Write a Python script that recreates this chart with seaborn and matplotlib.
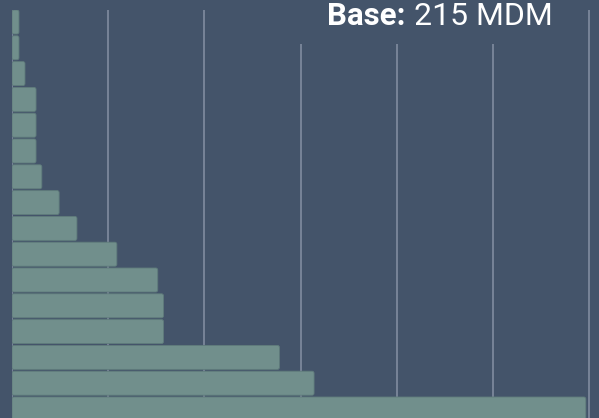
import matplotlib
matplotlib.use("Agg")
import matplotlib.pyplot as plt
import seaborn as sns
import pandas as pd
from matplotlib.patches import FancyBboxPatch, Rectangle

# values (gridline every 20 units)
categories = [f"Item {i}" for i in range(1, 17)]
values = [1.45, 1.45, 2.7, 5.0, 5.0, 5.0, 6.2, 9.8, 13.5, 21.8, 30.3, 31.5, 31.5, 55.6, 62.8, 119.3]
base_label = "215 MDM"

bg = "#44546a"
bar_color = "#718f8c"
grid_color = "#7c879b"

df = pd.DataFrame({"category": categories, "value": values})

sns.set_style("white")
plt.rcParams["font.family"] = ["Roboto", "DejaVu Sans"]

fig = plt.figure(figsize=(5.99, 4.18), dpi=100)
fig.patch.set_facecolor(bg)
ax = fig.add_axes([12 / 599, 0, 587 / 599, 408 / 418])
ax.set_facecolor(bg)

sns.barplot(data=df, x="value", y="category", orient="h", color=bar_color,
            saturation=1, width=0.93, edgecolor="#5f7b7b", linewidth=0.6, ax=ax)

# swap bars for slightly rounded ones
px_x = 20 / 96.2
px_y = 1 / 25.8
old = list(ax.patches)
for p in old:
    x0, y0 = p.get_x(), p.get_y()
    w, h = p.get_width(), p.get_height()
    rb = FancyBboxPatch((x0, y0), w, h, boxstyle=f"round,pad=0,rounding_size={2 * px_x}",
                        mutation_aspect=px_y / px_x, facecolor=bar_color,
                        edgecolor="#5f7b7b", linewidth=0.6, zorder=2)
    p.remove()
    ax.add_patch(rb)

ax.set_xlim(0, 587 / 96.2 * 20)
ax.set_ylim(-0.465 + 408 / 25.8, -0.465)
ax.set_xticks([0, 20, 40, 60, 80, 100, 120])
ax.xaxis.grid(True, color=grid_color, linewidth=1.3, zorder=0)
ax.set_axisbelow(True)
ax.set_xlabel("")
ax.set_ylabel("")
ax.set_xticklabels([])
ax.set_yticklabels([])
ax.tick_params(length=0)
sns.despine(ax=ax, left=True, bottom=True)

# background box behind the base label (hides the tops of some gridlines)
fig.patches.append(Rectangle((292 / 599, 1 - 44 / 418), 284 / 599, 44 / 418,
                             transform=fig.transFigure, facecolor=bg,
                             edgecolor="none", zorder=5))

t1 = fig.text(327 / 599, 1 - 25 / 418, "Base:", color="white", fontsize=22.5,
              fontweight="bold", ha="left", va="baseline", zorder=6)
fig.canvas.draw()
ext = t1.get_window_extent()
fig.text((ext.x1 + 8) / 599, 1 - 25 / 418, base_label, color="white", fontsize=23,
         ha="left", va="baseline", zorder=6)

fig.savefig("out.png", dpi=100, facecolor=bg)
